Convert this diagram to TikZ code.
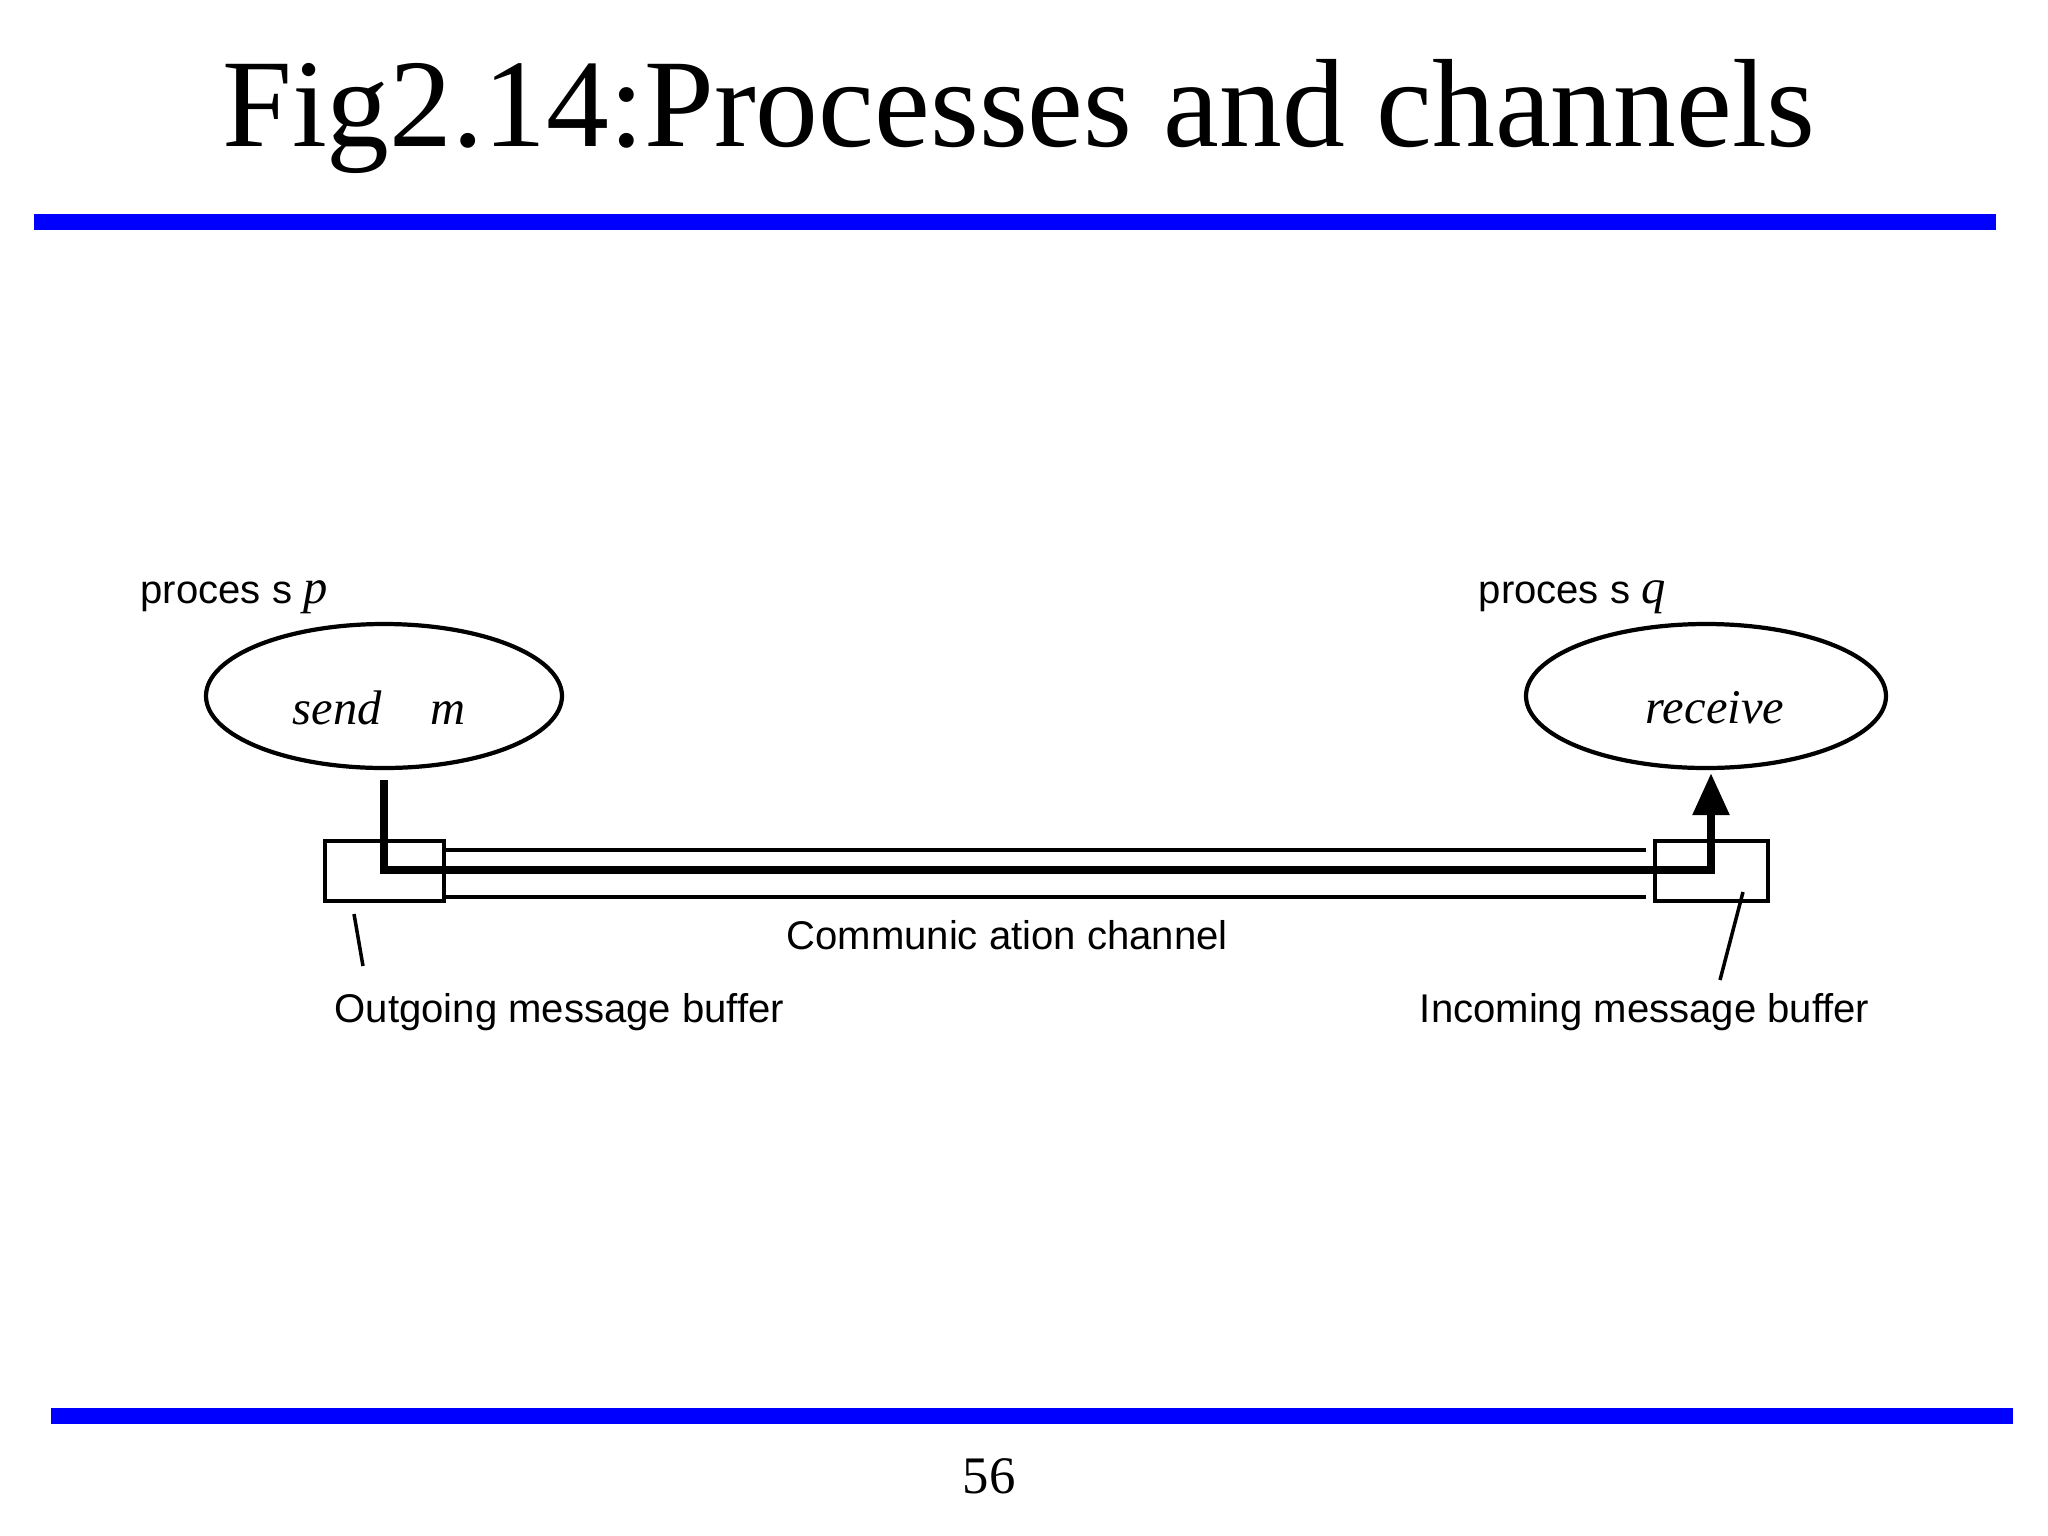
\documentclass[tikz,border=0pt]{standalone}
\usepackage{fontspec}
\setmainfont{Liberation Serif}
\newfontfamily\sans{Liberation Sans}
\usetikzlibrary{arrows.meta}
\definecolor{rule}{RGB}{0,0,255}
\begin{document}
\begin{tikzpicture}[x=0.01cm,y=-0.01cm,
  thin line/.style={line width=1.2pt},
  flow/.style={line width=2.4pt},
  lbl/.style={font=\sans\fontsize{11.4}{13}\selectfont,inner sep=0}]
\useasboundingbox (0,0) rectangle (2048,1536);
\node[font=\fontsize{35.7}{40}\selectfont,anchor=base] (title) at (1019,146) {Fig2.14:Processes and channels};
\fill[rule] (34,214) rectangle (1996,230);
\fill[rule] (51,1408) rectangle (2013,1424);
\node[font=\fontsize{15}{18}\selectfont] (num) at (989,1476) {56};
\draw[thin line] (384,696) ellipse [x radius=178,y radius=72];
\draw[thin line] (1706,696) ellipse [x radius=180,y radius=72];
\node[font=\itshape\fontsize{13.8}{16}\selectfont] (send) at (379,708) {send\quad m};
\node[font=\itshape\fontsize{13.8}{16}\selectfont] (recv) at (1715,708) {receive};
\node[lbl,anchor=base west] (pp) at (140,603) {proces s \textit{\fontsize{13.8}{16}\selectfont\rmfamily p}};
\node[lbl,anchor=base west] (pq) at (1478,603) {proces s \textit{\fontsize{13.8}{16}\selectfont\rmfamily q}};
\draw[thin line] (325,841) rectangle (444,901);
\draw[thin line] (1655,841) rectangle (1768,901);
\draw[thin line] (444,850) -- (1646,850);
\draw[thin line] (444,897) -- (1646,897);
\coordinate (s0) at (384,780);
\coordinate (s1) at (1711,773);
\draw[flow,-{Triangle[length=12pt,width=10pt]}] (s0) -- (384,870) -- (1711,870) -- (s1);
\node[lbl] (cc) at (1007,935) {Communic ation channel};
\node[lbl,anchor=west] (ob) at (334,1012) {Outgoing message buffer};
\node[lbl,anchor=east] (ib) at (1870,1012) {Incoming message buffer};
\draw[line width=1pt] (354,914) -- (363,966);
\draw[line width=1pt] (1743,892) -- (1720,980);
\end{tikzpicture}
\end{document}
